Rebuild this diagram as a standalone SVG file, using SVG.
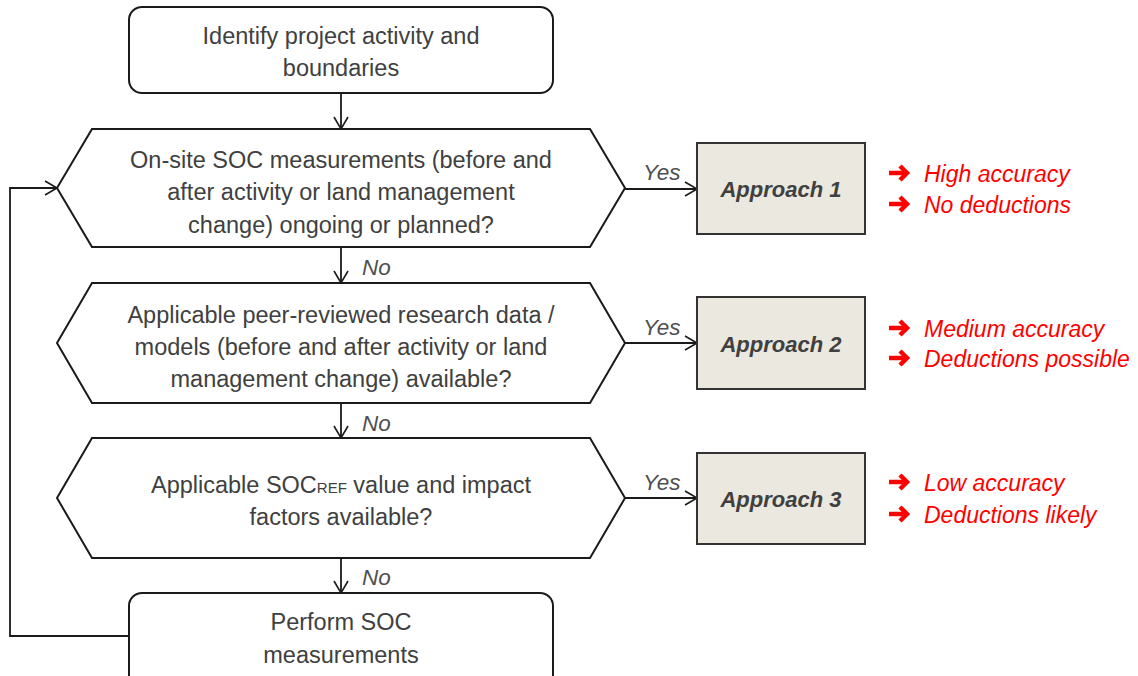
<svg xmlns="http://www.w3.org/2000/svg" width="1138" height="676" viewBox="0 0 1138 676">
<defs>
<marker id="arr" markerWidth="16" markerHeight="16" refX="14" refY="8" orient="auto" markerUnits="userSpaceOnUse">
<polyline points="2,1 14,8 2,15" fill="none" stroke="#1a1a1a" stroke-width="1.6"/>
</marker>
<g id="bullet">
<path d="M0,0 H16" stroke="#ff0000" stroke-width="4.5" fill="none"/>
<polyline points="11,-7 18,0 11,7" stroke="#ff0000" stroke-width="4.5" fill="none"/>
</g>
</defs>
<style>
.shape{fill:#ffffff;stroke:#1a1a1a;stroke-width:2}
.appr{fill:#ebe8df;stroke:#333333;stroke-width:2}
.t{font-family:"Liberation Sans",Arial,sans-serif;font-size:23.5px;fill:#404040;text-anchor:middle}
.lbl{font-family:"Liberation Sans",Arial,sans-serif;font-size:22.5px;font-style:italic;fill:#505050}
.ap{font-family:"Liberation Sans",Arial,sans-serif;font-size:22px;font-style:italic;font-weight:bold;fill:#404040;text-anchor:middle}
.red{font-family:"Liberation Sans",Arial,sans-serif;font-size:23px;font-style:italic;fill:#ff0000}
.ln{fill:none;stroke:#1a1a1a;stroke-width:1.8}
</style>
<rect width="1138" height="676" fill="#ffffff"/>

<g id="connectors">
<line class="ln" x1="341" y1="93" x2="341" y2="129" marker-end="url(#arr)"/>
<line class="ln" x1="341" y1="247" x2="341" y2="283" marker-end="url(#arr)"/>
<line class="ln" x1="341" y1="403" x2="341" y2="438" marker-end="url(#arr)"/>
<line class="ln" x1="341" y1="558" x2="341" y2="593" marker-end="url(#arr)"/>
<line class="ln" x1="625" y1="189" x2="697" y2="189" marker-end="url(#arr)"/>
<line class="ln" x1="625" y1="343" x2="697" y2="343" marker-end="url(#arr)"/>
<line class="ln" x1="625" y1="498" x2="697" y2="498" marker-end="url(#arr)"/>
<polyline class="ln" points="129,636 10,636 10,188 57,188" marker-end="url(#arr)"/>
<text class="lbl" x="362" y="275">No</text>
<text class="lbl" x="362" y="431">No</text>
<text class="lbl" x="362" y="585">No</text>
<text class="lbl" x="643" y="180">Yes</text>
<text class="lbl" x="643" y="335">Yes</text>
<text class="lbl" x="643" y="490">Yes</text>
</g>

<g id="start">
<rect class="shape" x="129" y="7" width="424" height="86" rx="13"/>
<text class="t" x="341" y="44">Identify project activity and</text>
<text class="t" x="341" y="76">boundaries</text>
</g>

<g id="decision1">
<polygon class="shape" points="92,129 590,129 625,188 590,247 92,247 57,188"/>
<text class="t" x="341" y="168">On-site SOC measurements (before and</text>
<text class="t" x="341" y="200">after activity or land management</text>
<text class="t" x="341" y="233">change) ongoing or planned?</text>
</g>

<g id="decision2">
<polygon class="shape" points="92,283 590,283 625,343 590,403 92,403 57,343"/>
<text class="t" x="341" y="323">Applicable peer-reviewed research data /</text>
<text class="t" x="341" y="355">models (before and after activity or land</text>
<text class="t" x="341" y="387">management change) available?</text>
</g>

<g id="decision3">
<polygon class="shape" points="92,438 590,438 625,498 590,558 92,558 57,498"/>
<text class="t" x="341" y="493">Applicable SOC<tspan font-size="15">REF</tspan> value and impact</text>
<text class="t" x="341" y="525">factors available?</text>
</g>

<g id="perform">
<rect class="shape" x="129" y="593" width="424" height="100" rx="13"/>
<text class="t" x="341" y="630">Perform SOC</text>
<text class="t" x="341" y="663">measurements</text>
</g>

<g id="approach1">
<rect class="appr" x="697" y="143" width="168" height="91"/>
<text class="ap" x="781" y="197">Approach 1</text>
</g>
<g id="approach2">
<rect class="appr" x="697" y="297" width="168" height="92"/>
<text class="ap" x="781" y="352">Approach 2</text>
</g>
<g id="approach3">
<rect class="appr" x="697" y="453" width="168" height="91"/>
<text class="ap" x="781" y="507">Approach 3</text>
</g>

<g id="notes1">
<use href="#bullet" x="889" y="173"/>
<use href="#bullet" x="889" y="204"/>
<text class="red" x="924" y="182">High accuracy</text>
<text class="red" x="924" y="213">No deductions</text>
</g>
<g id="notes2">
<use href="#bullet" x="889" y="328"/>
<use href="#bullet" x="889" y="358"/>
<text class="red" x="924" y="337">Medium accuracy</text>
<text class="red" x="924" y="367">Deductions possible</text>
</g>
<g id="notes3">
<use href="#bullet" x="889" y="482"/>
<use href="#bullet" x="889" y="514"/>
<text class="red" x="924" y="491">Low accuracy</text>
<text class="red" x="924" y="523">Deductions likely</text>
</g>
</svg>
